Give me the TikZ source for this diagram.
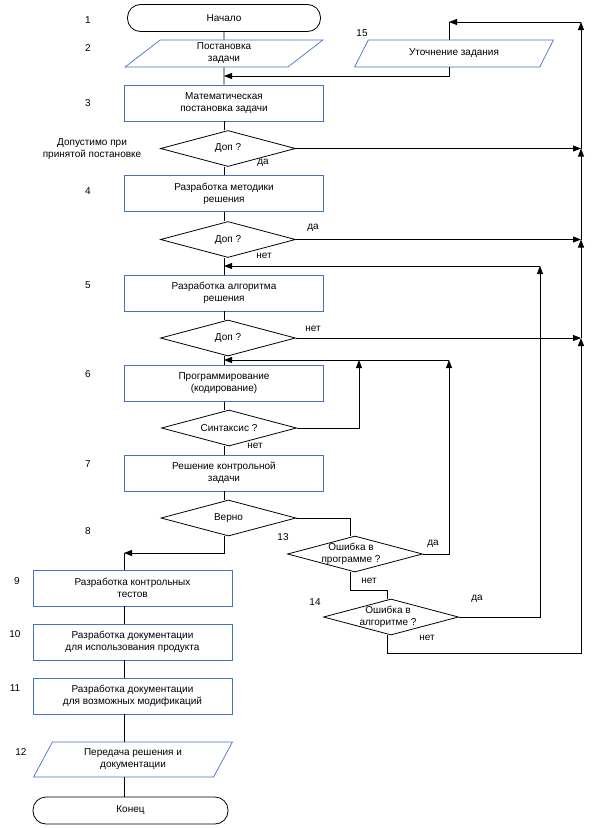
\documentclass[tikz,border=0pt]{standalone}
\usepackage{fontspec}
\setmainfont{Liberation Sans}
\usetikzlibrary{shapes.geometric, arrows.meta, positioning, calc}
\definecolor{BoxBlue}{HTML}{4472C4}

\begin{document}
\begin{tikzpicture}[x=1pt, y=-1pt, line width=0.8pt,
  txt/.style={font=\fontsize{10}{12}\selectfont, align=center},
  term/.style={txt, draw, rounded corners=13pt, minimum width=193pt, minimum height=27pt},
  proc/.style={txt, draw=BoxBlue, line width=0.7pt, minimum width=199pt, minimum height=36pt, inner sep=1pt},
  io/.style={txt, draw=BoxBlue, line width=0.7pt, trapezium, trapezium left angle=56, trapezium right angle=124, trapezium stretches=true, minimum width=199pt, minimum height=27pt, inner sep=1pt},
  cond/.style={txt, draw, diamond, aspect=3.75, minimum width=135pt, minimum height=36pt, inner sep=0pt},
  num/.style={font=\fontsize{10}{12}\selectfont, align=center},
  arr/.style={-{Triangle[length=8pt,width=6pt]}}
]
\useasboundingbox (0,0) rectangle (594,828);

% Main column
\node[term] (start) at (224,18) {Начало};
\node[io] (task) at (224,53.5) {Постановка\\задачи};
\node[io] (refine) at (454,53.5) {Уточнение задания};
\node[proc] (math) at (224,103) {Математическая\\постановка задачи};
\node[cond] (chk1) at (228,148.5) {Доп ?};
\node[proc] (method) at (224,193.5) {Разработка методики\\решения};
\node[cond] (chk2) at (228,239.5) {Доп ?};
\node[proc] (algo) at (224,293) {Разработка алгоритма\\решения};
\node[cond] (chk3) at (228,338) {Доп ?};
\node[proc] (code) at (224,383.5) {Программирование\\(кодирование)};
\node[cond] (syntax) at (229,428) {Синтаксис ?};
\node[proc] (ctrl) at (224,473) {Решение контрольной\\задачи};
\node[cond] (right) at (228.5,518) {Верно};

% Error checks (text may run past the diamond)
\node[cond] (errprog) at (355,554) {};
\node[num] (errprogtxt) at (351,554) {Ошибка в\\программе ?};
\node[cond] (erralg) at (391,617) {};
\node[num] (erralgtxt) at (388,617) {Ошибка в\\алгоритме ?};

% Lower column
\node[proc] (tests) at (132.5,588) {Разработка контрольных\\тестов};
\node[proc] (docuse) at (132.5,642) {Разработка документации\\для использования продукта};
\node[proc] (docmod) at (132.5,696) {Разработка документации\\для возможных модификаций};
\node[io, trapezium left angle=63, trapezium right angle=117, minimum height=35pt] (handover) at (133,759.5) {Передача решения и\\документации};
\node[term, minimum width=195pt] (finish) at (130.5,810.5) {Конец};

% Step numbers
\foreach \n/\y in {1/20, 2/48, 3/103, 4/191, 5/285, 6/374, 7/464, 8/531}
  \node[num] (n\n) at (88,\y) {\n};
\foreach \n/\x/\y in {9/17/581, 10/15/634, 11/15/688, 12/21/752, 13/283/537, 14/315/602, 15/362/33}
  \node[num] (n\n) at (\x,\y) {\n};
\node[num] (note) at (92,149) {Допустимо при\\принятой постановке};

% Branch labels
\node[num] (l1) at (263,163) {да};
\node[num] (l2) at (313,228) {да};
\node[num] (l3) at (264,256) {нет};
\node[num] (l4) at (313,329) {нет};
\node[num] (l5) at (255,446) {нет};
\node[num] (l6) at (433,544) {да};
\node[num] (l7) at (369,581) {нет};
\node[num] (l8) at (477,599) {да};
\node[num] (l9) at (427,638) {нет};

% Helper points
\coordinate (col) at (224,0);
\coordinate (lcol) at (124,0);
\coordinate (c13) at (350,0);
\coordinate (c14) at (387,0);
\coordinate (railtop) at (581,22);
\coordinate (railbot) at (581,653);
\coordinate (r1) at (449,22);
\coordinate (j1) at (224,76);
\coordinate (j2) at (224,266);
\coordinate (j2b) at (540,266);
\coordinate (j3) at (224,360);
\coordinate (j3a) at (359,360);
\coordinate (j3b) at (449,360);
\coordinate (c9) at (124,553);

% Main flow
\draw (start) -- (task);
\draw (task) -- (math);
\draw (math.south) -- (math.south |- chk1.north);
\draw (col |- chk1.south) -- (method.north);
\draw (method.south) -- (method.south |- chk2.north);
\draw (col |- chk2.south) -- (algo.north);
\draw (algo.south) -- (algo.south |- chk3.north);
\draw (col |- chk3.south) -- (code.north);
\draw (code.south) -- (code.south |- syntax.north);
\draw (col |- syntax.south) -- (ctrl.north);
\draw (ctrl.south) -- (ctrl.south |- right.north);
\draw[arr] (col |- right.south) -- (col |- c9) -- (c9);
\draw (c9) -- (c9 |- tests.north);
\draw (lcol |- tests.south) -- (lcol |- docuse.north);
\draw (lcol |- docuse.south) -- (lcol |- docmod.north);
\draw (lcol |- docmod.south) -- (lcol |- handover.north);
\draw (lcol |- handover.south) -- (lcol |- finish.north);

% Refinement loop
\draw[arr] (railtop) -- (r1);
\draw (r1) -- (r1 |- refine.north);
\draw[arr] (refine.south -| r1) |- (j1);
\draw[arr] (chk1.east) -- (chk1.east -| railtop);
\draw[arr] (chk2.east) -- (chk2.east -| railtop);
\draw[arr] (chk3.east) -- (chk3.east -| railtop);
\draw[arr] (chk1.east -| railtop) -- (railtop);
\draw[arr] (chk2.east -| railtop) -- (chk1.east -| railtop);
\draw[arr] (chk3.east -| railtop) -- (chk2.east -| railtop);

% Returns to coding and algorithm
\draw[arr] (syntax.east) -| (j3a);
\draw[arr] (j3b) -- (j3);
\draw (right.east) -| (errprog.north -| c13);
\draw[arr] (errprog.east) -| (j3b);
\draw (errprog.south -| c13) -- (350,590) -| (erralg.north -| c14);
\draw[arr] (erralg.east) -| (j2b);
\draw[arr] (j2b) -- (j2);
\draw[arr] (erralg.south -| c14) |- (railbot) -- (chk3.east -| railtop);
\end{tikzpicture}
\end{document}
